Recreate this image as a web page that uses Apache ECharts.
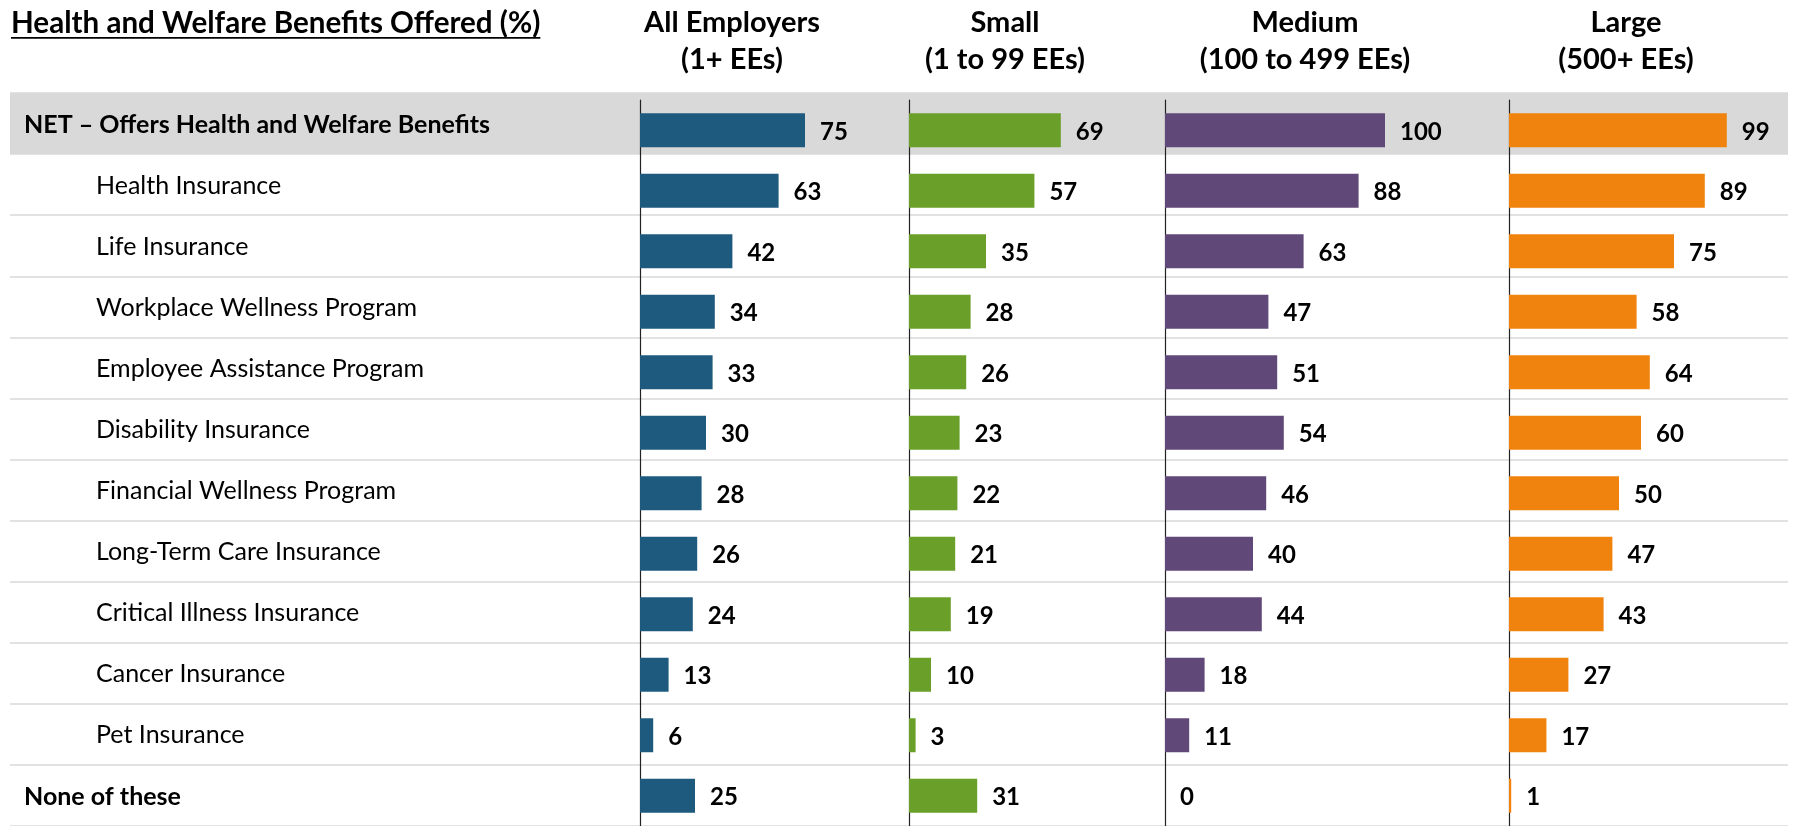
<!DOCTYPE html>
<html>
<head>
<meta charset="utf-8">
<script src="https://cdn.jsdelivr.net/npm/echarts@6/dist/echarts.min.js"></script>
<style>
  html, body { margin: 0; padding: 0; background: #fff; }
  #main { width: 1793px; height: 826px; }
</style>
</head>
<body>
<div id="main"></div>
<script>
// data
var categories = [
    'NET – Offers Health and Welfare Benefits',
    'Health Insurance',
    'Life Insurance',
    'Workplace Wellness Program',
    'Employee Assistance Program',
    'Disability Insurance',
    'Financial Wellness Program',
    'Long-Term Care Insurance',
    'Critical Illness Insurance',
    'Cancer Insurance',
    'Pet Insurance',
    'None of these'
];
var boldRows = ['NET – Offers Health and Welfare Benefits', 'None of these'];
var headers = ['All Employers\n(1+ EEs)', 'Small\n(1 to 99 EEs)', 'Medium\n(100 to 499 EEs)', 'Large\n(500+ EEs)'];
var allEmployers = [75, 63, 42, 34, 33, 30, 28, 26, 24, 13, 6, 25];
var small = [69, 57, 35, 28, 26, 23, 22, 21, 19, 10, 3, 31];
var medium = [100, 88, 63, 47, 51, 54, 46, 40, 44, 18, 11, 0];
var large = [99, 89, 75, 58, 64, 60, 50, 47, 43, 27, 17, 1];
var seriesData = [allEmployers, small, medium, large];
var colors = ['#1E5A7D', '#6A9F29', '#604978', '#F0820E'];

// layout
var FONT = 'Lato, "Open Sans", sans-serif';
var panelLeft = [640, 909, 1165, 1509];
var headerCenter = [732, 1005, 1305, 1626];
var rowTop = 93, rowH = 61.5;
var barTop = 100, barRowH = 60.8;
var titleText = 'Health and Welfare Benefits Offered (%)';
var titleSize = 29.6;

var myChart = echarts.init(document.getElementById('main'));

// width of the title, for the underline
var ctx = document.createElement('canvas').getContext('2d');
ctx.font = 'bold ' + titleSize + 'px ' + FONT;
var titleW = ctx.measureText(titleText).width;

var grids = [{ left: 10, right: 5, top: rowTop, height: rowH * categories.length }];
var xAxes = [{ gridIndex: 0, type: 'value', show: false }];
var yAxes = [{
    gridIndex: 0,
    type: 'category',
    inverse: true,
    data: categories,
    axisLine: { show: false },
    axisTick: { show: false },
    splitLine: { show: true, interval: 0, lineStyle: { color: '#D9D9D9', width: 1.5 } },
    splitArea: {
        show: true,
        interval: 0,
        areaStyle: { color: ['#D9D9D9'].concat(categories.slice(1).map(function () { return 'rgba(0,0,0,0)'; })) }
    },
    axisLabel: {
        interval: 0,
        align: 'left',
        margin: -14,
        padding: [2, 0, 0, 0],
        formatter: function (v) {
            return boldRows.indexOf(v) >= 0 ? '{b|' + v + '}' : '{n|' + v + '}';
        },
        rich: {
            b: { fontFamily: FONT, fontSize: 25, fontWeight: 'bold', color: '#000' },
            n: { fontFamily: FONT, fontSize: 25, color: '#000', padding: [0, 0, 0, 72] }
        }
    }
}];
var series = [];
var titles = [{
    text: titleText,
    left: 11,
    top: 8,
    padding: 0,
    textStyle: { fontFamily: FONT, fontSize: titleSize, fontWeight: 'bold', color: '#000' }
}];

seriesData.forEach(function (d, i) {
    var g = i + 1;
    grids.push({ left: panelLeft[i], width: 220, top: barTop, height: barRowH * categories.length });
    xAxes.push({ gridIndex: g, type: 'value', min: 0, max: 100, show: false });
    yAxes.push({
        gridIndex: g,
        type: 'category',
        inverse: true,
        data: categories,
        axisLine: { show: true, lineStyle: { color: '#222', width: 1.2 } },
        axisTick: { show: false },
        axisLabel: { show: false },
        splitLine: { show: false }
    });
    series.push({
        type: 'bar',
        xAxisIndex: g,
        yAxisIndex: g,
        data: d,
        barWidth: 34,
        itemStyle: { color: colors[i] },
        label: {
            show: true,
            position: 'right',
            distance: 15,
            offset: [0, 2],
            fontFamily: FONT,
            fontSize: 24,
            fontWeight: 'bold',
            color: '#000'
        },
        silent: true,
        animation: false
    });
    titles.push({
        text: headers[i],
        left: headerCenter[i],
        top: 4,
        padding: 0,
        textAlign: 'center',
        textStyle: { fontFamily: FONT, fontSize: 29, fontWeight: 'bold', color: '#000', lineHeight: 37 }
    });
});

myChart.setOption({
    backgroundColor: '#fff',
    animation: false,
    title: titles,
    grid: grids,
    xAxis: xAxes,
    yAxis: yAxes,
    series: series,
    graphic: [{
        type: 'rect',
        shape: { x: 11, y: 37, width: titleW, height: 1.8 },
        style: { fill: '#000' }
    }]
});
</script>
</body>
</html>
